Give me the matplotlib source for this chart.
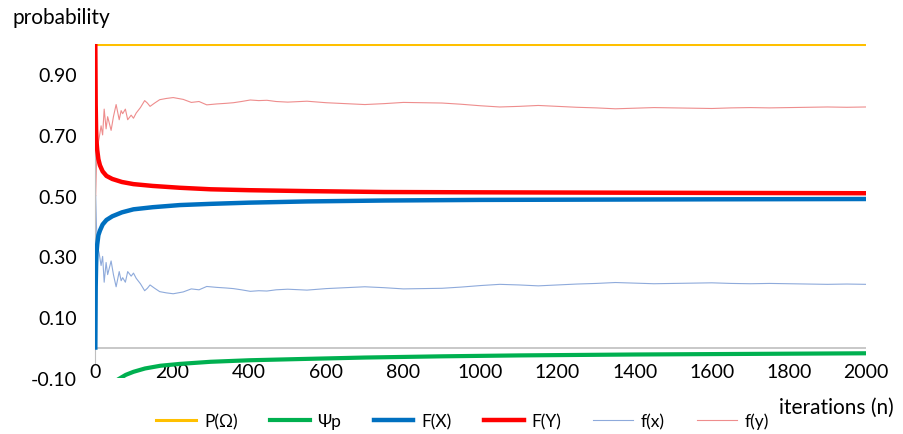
import numpy as np
from matplotlib import pyplot as plt

plt.rcParams['font.family'] = ['Lato', 'DejaVu Sans']
plt.rcParams['axes.unicode_minus'] = False

# valores
n_total = [1, 2000]
p_omega = [1.0, 1.0]

n_psi = [45, 60, 80, 100, 130, 170, 220, 300, 400, 530, 700, 900, 1100, 1400, 1700, 2000]
psi_p = [-0.125, -0.105, -0.09, -0.08, -0.069, -0.06, -0.054, -0.047, -0.042, -0.038,
         -0.033, -0.029, -0.026, -0.023, -0.021, -0.019]

n_cum = [1, 2, 3, 4, 6, 9, 13, 20, 30, 45, 70, 100, 150, 220, 300, 400, 550, 750,
         1000, 1300, 1600, 2000]
F_X = [0.0, 0.20, 0.27, 0.31, 0.34, 0.37, 0.385, 0.405, 0.42, 0.432, 0.445, 0.455,
       0.462, 0.469, 0.473, 0.477, 0.481, 0.484, 0.486, 0.487, 0.488, 0.489]
F_Y = [1.0, 0.80, 0.72, 0.68, 0.65, 0.62, 0.60, 0.58, 0.565, 0.555, 0.545, 0.538,
       0.532, 0.526, 0.521, 0.518, 0.515, 0.512, 0.511, 0.510, 0.509, 0.508]

n_freq = [2, 4, 7, 11, 16, 20, 24, 29, 33, 37, 42, 48, 55, 63, 68, 72, 79, 85, 94,
          100, 107, 118, 129, 136, 143, 155, 168, 185, 203, 229, 250, 270, 290, 316,
          340, 359, 380, 403, 425, 446, 470, 500, 550, 600, 650, 700, 750, 800, 850,
          900, 950, 1000, 1050, 1100, 1150, 1200, 1250, 1300, 1350, 1400, 1450, 1500,
          1550, 1600, 1650, 1700, 1750, 1800, 1850, 1900, 1950, 2000]
f_x = [0.50, 0.40, 0.33, 0.31, 0.27, 0.30, 0.215, 0.28, 0.24, 0.26, 0.285, 0.24,
       0.20, 0.25, 0.22, 0.23, 0.215, 0.25, 0.235, 0.245, 0.228, 0.21, 0.187, 0.195,
       0.206, 0.195, 0.184, 0.18, 0.177, 0.183, 0.193, 0.19, 0.201, 0.198, 0.196,
       0.194, 0.19, 0.185, 0.187, 0.186, 0.19, 0.192, 0.189, 0.194, 0.197, 0.200,
       0.197, 0.193, 0.194, 0.195, 0.199, 0.204, 0.208, 0.206, 0.203, 0.206, 0.209,
       0.211, 0.214, 0.212, 0.210, 0.211, 0.212, 0.213, 0.211, 0.210, 0.211, 0.210,
       0.209, 0.208, 0.209, 0.208]
f_y = [0.50, 0.60, 0.665, 0.69, 0.73, 0.70, 0.785, 0.72, 0.76, 0.74, 0.715, 0.76,
       0.80, 0.75, 0.78, 0.77, 0.785, 0.75, 0.765, 0.755, 0.772, 0.79, 0.813, 0.805,
       0.794, 0.805, 0.816, 0.82, 0.823, 0.817, 0.807, 0.81, 0.799, 0.802, 0.804,
       0.806, 0.81, 0.815, 0.813, 0.814, 0.81, 0.808, 0.811, 0.806, 0.803, 0.800,
       0.803, 0.807, 0.806, 0.805, 0.801, 0.796, 0.792, 0.794, 0.797, 0.794, 0.791,
       0.789, 0.786, 0.788, 0.790, 0.789, 0.788, 0.787, 0.789, 0.790, 0.789, 0.790,
       0.791, 0.792, 0.791, 0.792]

y_ticks = [-0.10, 0.10, 0.30, 0.50, 0.70, 0.90]
x_ticks = [0, 200, 400, 600, 800, 1000, 1200, 1400, 1600, 1800, 2000]

fig = plt.figure(figsize=(9.04, 4.35), dpi=100)
ax = fig.add_axes([0.105, 0.129, 0.853, 0.768])

ax.axhline(0, color="#bfbfbf", lw=1.2, zorder=1)
ax.plot(n_freq, f_x, color="#8eaadb", lw=0.8, label="f(x)", zorder=2)
ax.plot(n_freq, f_y, color="#ee8d8d", lw=0.8, label="f(y)", zorder=2)
ax.plot(n_total, p_omega, color="#ffc000", lw=2.2, label="P(Ω)", zorder=3)
ax.plot(n_psi, psi_p, color="#00b050", lw=3, label="Ψp", zorder=3)
ax.plot(n_cum, F_X, color="#0070c0", lw=3.2, label="F(X)", zorder=4)
ax.plot(n_cum, F_Y, color="#ff0000", lw=3.2, label="F(Y)", zorder=4)

ax.set_xlim(0, 2000)
ax.set_ylim(-0.10, 1.0)
ax.set_yticks(y_ticks)
ax.set_yticklabels([f"{v:.2f}" for v in y_ticks])
ax.set_xticks(x_ticks)
ax.tick_params(axis="y", length=0, pad=13, labelsize=14)
ax.tick_params(axis="x", length=0, pad=-11, labelsize=14)

for s in ["top", "right", "bottom"]:
    ax.spines[s].set_visible(False)
ax.spines["left"].set_color("#bfbfbf")
ax.spines["left"].set_bounds(-0.05, 1.0)

fig.text(0.014, 0.958, "probability", fontsize=15, va="center", ha="left")
fig.text(0.862, 0.062, "iterations (n)", fontsize=15, va="center", ha="left")

h, l = ax.get_legend_handles_labels()
order = ["P(Ω)", "Ψp", "F(X)", "F(Y)", "f(x)", "f(y)"]
hh = [h[l.index(k)] for k in order]
fig.legend(hh, order, loc="center", bbox_to_anchor=(0.512, 0.03), ncol=6,
           frameon=False, fontsize=12.5, handlelength=2.3, columnspacing=1.85,
           handletextpad=0.45, borderpad=0.1)

fig.savefig("out.png", dpi=100)
